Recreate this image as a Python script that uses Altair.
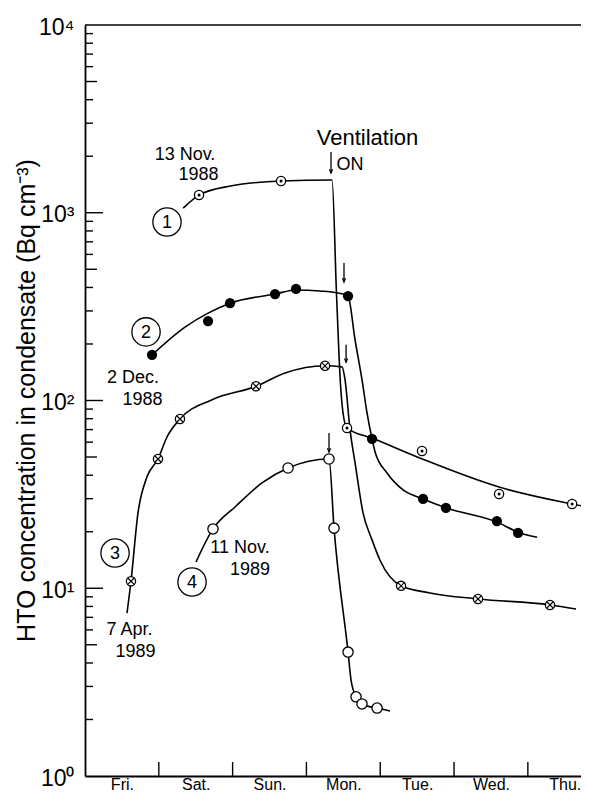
import altair as alt
import pandas as pd

FONT = "Liberation Sans"

days = ["Fri.", "Sat.", "Sun.", "Mon.", "Tue.", "Wed.", "Thu."]
day_label_pos = [0.5, 1.5, 2.5, 3.5, 4.5, 5.5, 6.5]
day_ticks = [1, 2, 3, 4, 5, 6]
y_top = [10000]
y_major = [10, 100, 1000]
y_mid = [5, 50, 500, 5000]
y_minor = [2, 3, 4, 6, 7, 8, 9, 20, 30, 40, 60, 70, 80, 90,
           200, 300, 400, 600, 700, 800, 900, 2000, 3000, 4000, 6000, 7000, 8000, 9000]
y_label_vals = [1, 10, 100, 1000, 10000]
sup = ["⁰", "¹", "²", "³", "⁴"]

# ---- fitted curves ----
c1_day = [1.33, 1.545, 1.97, 2.66, 3.347, 3.407, 3.462, 3.496, 3.55, 3.889, 4.57, 5.61, 6.60, 6.80]
c1_val = [1059, 1242, 1387, 1476, 1493, 374, 121, 85.8, 71.3, 63.1, 48.8, 34.6, 28.1, 27.1]

c2_day = [0.908, 1.355, 1.667, 1.965, 2.575, 2.859, 3.184, 3.496, 3.564, 3.659, 3.753, 3.821,
          3.889, 3.930, 4.092, 4.309, 4.580, 4.892, 5.583, 5.867, 6.125]
c2_val = [175, 246, 292, 330, 369, 388, 383, 369, 360, 210, 129, 85.8,
          62.4, 53.2, 41.1, 33.4, 29.9, 26.8, 22.5, 19.9, 18.7]

c3_day = [0.569, 0.623, 0.718, 0.840, 0.989, 1.111, 1.287, 1.721, 2.317, 2.710, 3.252, 3.482,
          3.523, 3.591, 3.659, 3.767, 3.889, 3.997, 4.282, 4.675, 5.325, 6.30, 6.653]
c3_val = [7.38, 10.9, 25.2, 39.2, 48.8, 63.9, 79.7, 101, 119, 140, 153, 151,
          129, 69.7, 46.5, 25.2, 18.1, 14.1, 10.3, 9.44, 8.77, 8.15, 7.75]

c4_day = [1.504, 1.734, 2.033, 2.398, 2.751, 3.306, 3.374, 3.564, 3.604, 3.672, 3.753, 3.957, 4.133]
c4_val = [13.8, 20.7, 27.1, 36.4, 43.7, 48.8, 20.9, 4.57, 3.25, 2.64, 2.42, 2.30, 2.22]

# ---- measured points ----
s1_day = [1.545, 2.656, 3.55, 4.566, 5.61, 6.60]
s1_val = [1243, 1476, 71.3, 53.8, 31.8, 28.1]
s2_day = [0.908, 1.667, 1.965, 2.575, 2.859, 3.564, 3.889, 4.58, 4.89, 5.58, 5.867]
s2_val = [175, 265, 330, 369, 393, 360, 62.4, 29.9, 26.8, 22.8, 19.7]
s3_day = [0.623, 0.989, 1.287, 2.317, 3.252, 4.282, 5.325, 6.30]
s3_val = [10.9, 48.8, 79.7, 119, 153, 10.3, 8.77, 8.15]
s4_day = [1.734, 2.751, 3.306, 3.374, 3.564, 3.672, 3.753, 3.957]
s4_val = [20.7, 43.7, 48.8, 20.9, 4.57, 2.64, 2.42, 2.30]

# ---- arrows ----
arr_day = [3.333, 3.509, 3.537, 3.306]
arr_top = [2108, 540, 198, 67.1]
arr_tip = [1629, 428, 160, 53.2]

# ---- annotations ----
ann_text = ["13 Nov.", "1988", "2 Dec.", "1988", "7 Apr.", "1989", "11 Nov.", "1989", "ON"]
ann_day = [1.355, 1.538, 0.650, 0.779, 0.603, 0.684, 2.100, 2.236, 3.591]
ann_val = [1910, 1494, 124, 94.6, 5.64, 4.30, 15.4, 11.8, 1690]
vent_text = ["Ventilation"]
vent_day = [3.828]
vent_val = [2296]
num_text = ["1", "2", "3", "4"]
num_day = [1.111, 0.827, 0.407, 1.450]
num_val = [893, 232, 15.4, 10.8]

PW, PH = 496, 751
xs = alt.Scale(domain=[0, 6.72], nice=False, zero=False)
ys = alt.Scale(type="log", domain=[1, 10000], nice=False)

day_expr = "[" + ",".join("'%s'" % d for d in days) + "][floor(datum.value)]"
sup_expr = "'10' + [" + ",".join("'%s'" % s for s in sup) + "][round(log(datum.value)/LN10)]"

xaxis = alt.Axis(values=day_label_pos, labelExpr=day_expr, ticks=False, grid=False,
                 domain=True, domainColor="black", domainWidth=1.8,
                 title=None, labelFont=FONT, labelFontSize=16, labelPadding=0,
                 labelBaseline="top", labelFlush=False, labelOverlap=False, labelColor="black")
yaxis = alt.Axis(values=y_label_vals, labelExpr=sup_expr, ticks=False, grid=False,
                 domain=True, domainColor="black", domainWidth=1.8,
                 title="HTO concentration in condensate (Bq cm⁻³)",
                 titleFont=FONT, titleFontSize=25, titleFontWeight="normal", titleColor="black",
                 titleX=-51, titleY=375, titleAngle=-90, titleAlign="center", titleBaseline="alphabetic",
                 labelFont=FONT, labelFontSize=23, labelPadding=11, labelColor="black", labelOffset=2,
                 labelOverlap=False, labelBaseline="middle", labelFlush=False)

def frame(d, v):
    return pd.DataFrame({"day": d, "val": v})

curves = pd.concat([
    frame(c1_day, c1_val).assign(curve="1"),
    frame(c2_day, c2_val).assign(curve="2"),
    frame(c3_day, c3_val).assign(curve="3"),
    frame(c4_day, c4_val).assign(curve="4"),
])

X = alt.X("day:Q", scale=xs, axis=xaxis)
Y = alt.Y("val:Q", scale=ys, axis=yaxis)

base_lines = alt.Chart(curves).mark_line(color="black", strokeWidth=1.6, interpolate="monotone").encode(
    x=X, y=Y, detail="curve:N")

def ring(df, size):
    return alt.Chart(df).mark_point(shape="circle", filled=True, fill="white", stroke="black",
                                    strokeWidth=1.3, size=size, opacity=1).encode(x=X, y=Y)

s1 = frame(s1_day, s1_val)
s2 = frame(s2_day, s2_val)
s3 = frame(s3_day, s3_val)
s4 = frame(s4_day, s4_val)

l_s1 = ring(s1, 85)
l_s1dot = alt.Chart(s1).mark_point(shape="circle", filled=True, color="black", size=9, opacity=1).encode(x=X, y=Y)
l_s2 = alt.Chart(s2).mark_point(shape="circle", filled=True, color="black", size=105, opacity=1).encode(x=X, y=Y)
l_s3 = ring(s3, 85)
l_s3x = alt.Chart(s3).mark_point(shape="M-0.7,-0.7L0.7,0.7M-0.7,0.7L0.7,-0.7", filled=False,
                                 stroke="black", strokeWidth=1.2, size=85, opacity=1).encode(x=X, y=Y)
l_s4 = ring(s4, 105)

arrows = pd.DataFrame({"day": arr_day, "top": arr_top, "val": arr_tip})
l_arr = alt.Chart(arrows).mark_rule(color="black", strokeWidth=1.3).encode(
    x=X, y=alt.Y("top:Q", scale=ys, axis=yaxis), y2="val:Q")
l_head = alt.Chart(arrows).mark_point(shape="M-1,-2.4L0,0L1,-2.4", filled=False, stroke="black",
                                      strokeWidth=1.3, size=9, opacity=1).encode(x=X, y=Y)

ann = pd.DataFrame({"day": ann_day, "val": ann_val, "label": ann_text})
l_ann = alt.Chart(ann).mark_text(font=FONT, fontSize=18, color="black", align="center",
                                 baseline="alphabetic").encode(x=X, y=Y, text="label:N")
vent = pd.DataFrame({"day": vent_day, "val": vent_val, "label": vent_text})
l_vent = alt.Chart(vent).mark_text(font=FONT, fontSize=22, color="black", align="center",
                                   baseline="alphabetic").encode(x=X, y=Y, text="label:N")
nums = pd.DataFrame({"day": num_day, "val": num_val, "label": num_text})
l_numc = alt.Chart(nums).mark_point(shape="circle", filled=False, stroke="black", strokeWidth=1.3,
                                    size=800, opacity=1).encode(x=X, y=Y)
l_numt = alt.Chart(nums).mark_text(font=FONT, fontSize=18, color="black", align="center",
                                   baseline="middle", dy=1).encode(x=X, y=Y, text="label:N")

def yticks(vals, x0, length, width=1.4):
    return alt.Chart(pd.DataFrame({"val": vals})).mark_rule(color="black", strokeWidth=width).encode(
        y=Y, x=alt.value(x0), x2=alt.value(length))

l_ytop = yticks(y_top, 0, PW, 1.6)
l_ymaj = yticks(y_major, 0, 18)
l_ymid = yticks(y_mid, 0, 12)
l_ymin = yticks(y_minor, 0, 8)
l_xt = alt.Chart(pd.DataFrame({"day": day_ticks})).mark_rule(color="black", strokeWidth=1.4).encode(
    x=X, y=alt.value(PH), y2=alt.value(PH - 14))

chart = alt.layer(
    base_lines, l_ytop, l_ymaj, l_ymid, l_ymin, l_xt, l_arr, l_head,
    l_s1, l_s1dot, l_s2, l_s3, l_s3x, l_s4,
    l_ann, l_vent, l_numc, l_numt,
).properties(
    width=PW, height=PH,
    autosize=alt.AutoSizeParams(type="none"),
    padding={"left": 77, "top": 17, "right": 0, "bottom": 16},
    background="white",
).configure_view(stroke=None)

chart.save("out.html", embed_options={"renderer": "svg", "actions": False})
